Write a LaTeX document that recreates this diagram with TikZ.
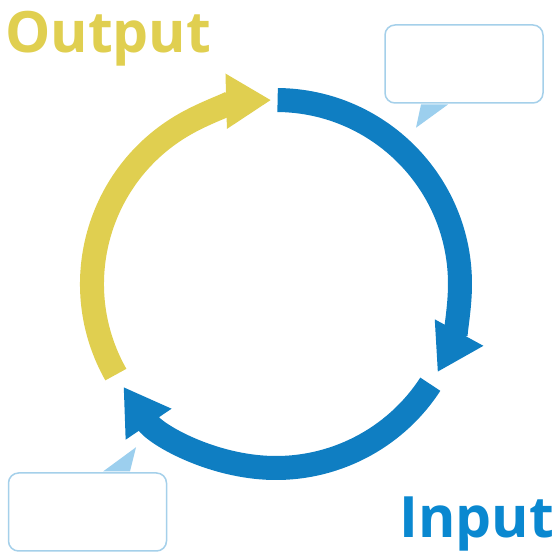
\documentclass[tikz,border=0pt]{standalone}
\usepackage{fontspec}
\setmainfont{Open Sans}
\usetikzlibrary{arrows.meta}

\definecolor{cycleblue}{HTML}{0F7EC2}
\definecolor{cycleyellow}{HTML}{E0CF50}
\definecolor{inputblue}{HTML}{0A88D0}
\definecolor{calloutline}{HTML}{A5D0EA}
\definecolor{callouttail}{HTML}{9CCFEE}

\begin{document}
\begin{tikzpicture}[x=1pt, y=1pt,
  cyc/.style={line width=24pt, -{Triangle[length=45pt, width=52pt]}},
  callout/.style={draw=calloutline, line width=1.5pt, rounded corners=10pt,
    fill=white, minimum width=158pt, minimum height=78pt, inner sep=0pt},
  bigword/.style={font=\bfseries\fontsize{57}{57}\selectfont,
    anchor=base west, inner sep=0pt}]
  \useasboundingbox (0,0) rectangle (560,560);

  %% Mittelpunkt des Kreislaufs
  \coordinate (c) at (276,276);

  %% Pfeilboegen
  \foreach \col/\from/\to in {cycleblue/89.5/-28.6, cycleblue/-33/-146,
      cycleyellow/209.5/91.5} {
    \draw[cyc, \col] ([shift={(\from:184)}]c)
      arc[start angle=\from, end angle=\to, radius=184];
  }

  %% Sprechblasen
  \node[callout] (noteA) at (464,496) {};
  \fill[callouttail] ([shift={(-43,-0.75)}]noteA.south)
    -- ([shift={(-48,-24)}]noteA.south)
    -- ([shift={(-16,-0.75)}]noteA.south) -- cycle;

  \node[callout] (noteB) at (87.5,48) {};
  \fill[callouttail] ([shift={(15.5,0.75)}]noteB.north)
    -- ([shift={(48.5,25)}]noteB.north)
    -- ([shift={(42.5,0.75)}]noteB.north) -- cycle;

  %% Beschriftungen
  \node[bigword, text=cycleyellow] (output) at (5,507) {Output};
  \node[bigword, text=inputblue] (input) at (399,22) {Input};
\end{tikzpicture}
\end{document}
